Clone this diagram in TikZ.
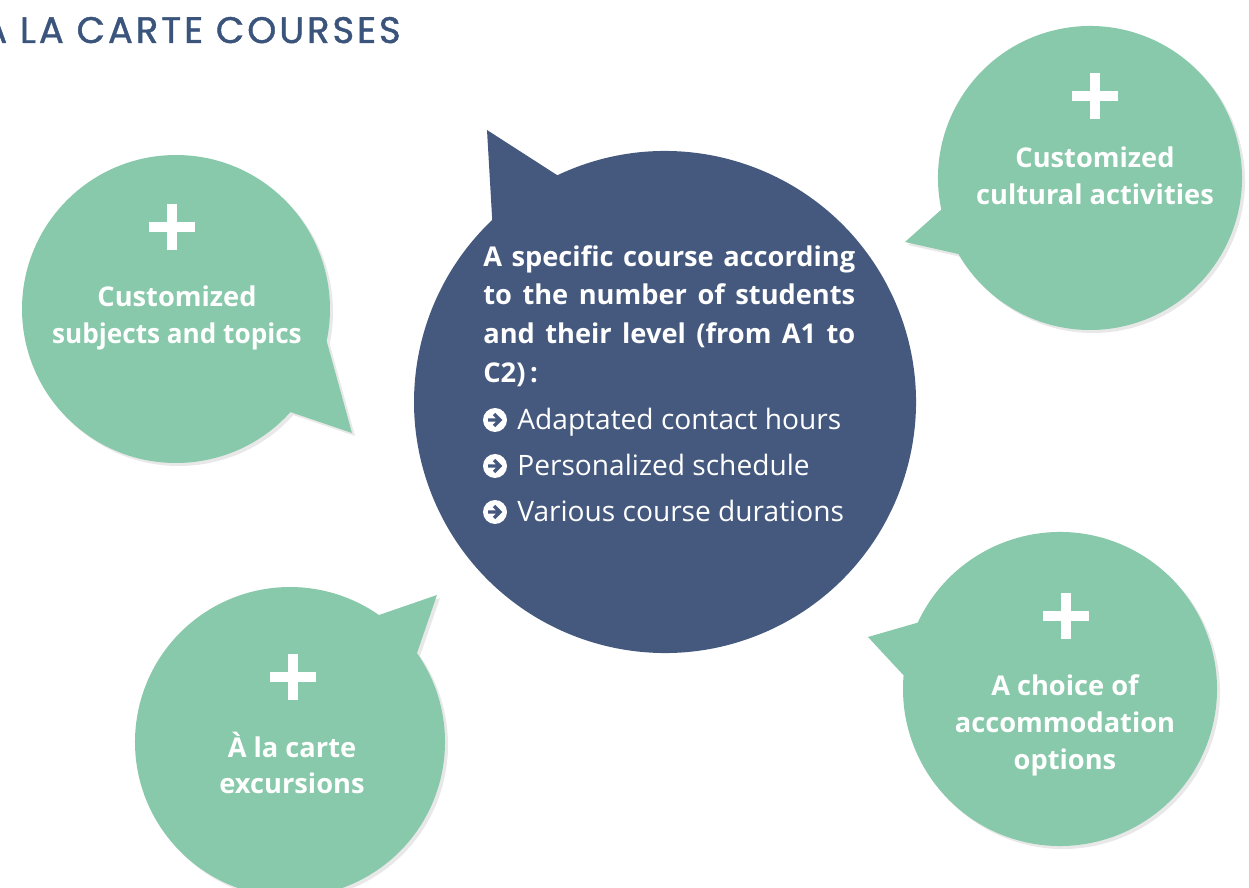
\documentclass[tikz,border=0pt]{standalone}
\usepackage{fontspec}
\setmainfont{Open Sans}
\newfontfamily\titlefont{Poppins}[FakeBold=1.2, LetterSpace=8]
\usetikzlibrary{positioning, shadows}

\definecolor{mint}{RGB}{137,201,171}
\definecolor{navy}{RGB}{69,89,127}
\definecolor{titleblue}{RGB}{58,84,124}

% speech bubble: style, centre, radius, tail from/to angle, tip
\newcommand{\bubble}[6]{%
  \path[#1] (#2) ++(#5:#3) arc[start angle=#5, end angle={#4+360}, radius=#3]
    -- (#6) -- cycle;}
% white plus sign above the label
\newcommand{\plusmark}[1]{%
  \draw[plusbar] (#1) ++(-23,0) -- ++(46,0) (#1) ++(0,-23) -- ++(0,46);}

\begin{document}
\begin{tikzpicture}[x=0.02cm, y=-0.02cm,
    greenbub/.style={fill=mint, drop shadow={shadow xshift=0.06cm,
      shadow yshift=-0.06cm, opacity=0.18}},
    bluebub/.style={fill=navy},
    plusbar/.style={draw=white, line width=0.19cm},
    bulletarrow/.style={draw=navy, line width=0.065cm, miter limit=4},
    label/.style={text=white, align=center, inner sep=0pt,
      font=\bfseries\fontsize{15.5}{21}\selectfont},
    intro/.style={text=white, inner sep=0pt, text width=7.44cm,
      align=justify, font=\bfseries\fontsize{15.5}{22}\selectfont},
    item/.style={text=white, inner sep=0pt,
      font=\fontsize{16}{20}\selectfont}]
  \useasboundingbox (0,0) rectangle (1249,888);

  % title, cut by the left edge
  \node[anchor=base east, inner sep=0pt, text=titleblue,
    font=\titlefont\fontsize{21}{24}\selectfont] (title) at (401,43)
    {À LA CARTE COURSES};

  % centres of the bubbles
  \coordinate (cmain) at (665,402);
  \coordinate (csubj) at (176,309);
  \coordinate (ccult) at (1090,178);
  \coordinate (cexcu) at (290,742);
  \coordinate (caccom) at (1060,689);

  % green bubbles
  \bubble{greenbub}{csubj}{154}{12}{42}{352,433}
  \bubble{greenbub}{ccult}{152}{150}{168}{905,242}
  \bubble{greenbub}{cexcu}{155}{-55}{-35}{437,595}
  \bubble{greenbub}{caccom}{157}{185}{205}{868,637}

  % big blue bubble
  \bubble{bluebub}{cmain}{251}{226.5}{244.6}{487,130}

  % plus signs
  \plusmark{172,227}
  \plusmark{1095,96}
  \plusmark{293,677}
  \plusmark{1066,616}

  % labels
  \node[label] (subjects) at (177,318)
    {Customized\\\scalebox{0.96}[1]{subjects and topics}};
  \node[label] (cultural) at (1095,176) {Customized\\cultural activities};
  \node[label] (excursions) at (292,763) {À la carte\\excursions};
  \node[label] (accommodation) at (1065,725)
    {A choice of\\accommodation\\options};

  % text of the blue bubble
  \node[intro, anchor=north west] (intro) at (483,245)
    {A specific course according\linebreak to the number of students\linebreak
     and their level (from A1 to\linebreak C2)\,:};
  \foreach \txt [count=\i] in {Adaptated contact hours,
      Personalized schedule, Various course durations} {
    \coordinate (dot\i) at (495,{420+46*(\i-1)});
    \fill[white] (dot\i) circle[radius=12];
    \draw[bulletarrow] (dot\i) ++(-7,0) -- ++(12,0)
      (dot\i) ++(-1,-6) -- ++(6,6) -- ++(-6,6);
    \node[item, anchor=base west] (item\i) at (517,{430+46*(\i-1)}) {\txt};
  }
\end{tikzpicture}
\end{document}
